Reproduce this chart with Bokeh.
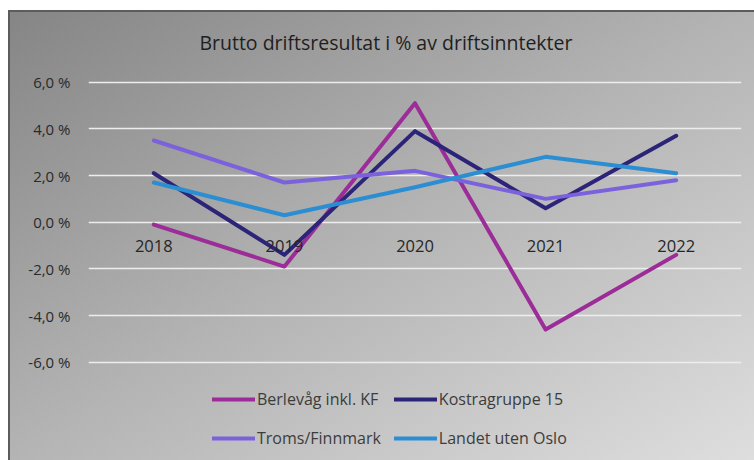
from bokeh.plotting import figure
from bokeh.models import Range1d, FactorRange, FixedTicker, Legend, LegendItem, Label, ColumnDataSource
from bokeh.core.properties import value
from bokeh.embed import file_html
from bokeh.resources import INLINE

# ---- data ----
years = ["2018", "2019", "2020", "2021", "2022"]
berlevag = [-0.1, -1.9, 5.1, -4.6, -1.4]
kostra = [2.1, -1.4, 3.9, 0.6, 3.7]
troms = [3.5, 1.7, 2.2, 1.0, 1.8]
landet = [1.7, 0.3, 1.5, 2.8, 2.1]
series_names = ["Berlevåg inkl. KF", "Kostragruppe 15", "Troms/Finnmark", "Landet uten Oslo"]
series_values = [berlevag, kostra, troms, landet]
series_colors = ["#9b2c98", "#2c2478", "#7b62dc", "#2b8ed3"]
y_ticks = [-6, -4, -2, 0, 2, 4, 6]
y_tick_labels = ["-6,0 %", "-4,0 %", "-2,0 %", "0,0 %", "2,0 %", "4,0 %", "6,0 %"]
title_text = "Brutto driftsresultat  i % av driftsinntekter"

FONT = "Open Sans"

# frame spans the full chart height so title/legend can live inside it
p = figure(
    width=746, height=450,
    x_range=FactorRange(*years), y_range=Range1d(-10.21, 9.07),
    output_backend="svg", toolbar_location=None,
    min_border_left=80, min_border_right=13, min_border_top=0, min_border_bottom=0,
    styles={
        "margin": "10px 0 0 8px",
        "background": "linear-gradient(to bottom right, #858585 0%, #b4b4b4 50%, #dedede 100%)",
        "box-shadow": "inset 2px 2px 0 #5c5c5c",
    },
)
p.border_fill_alpha = 0
p.background_fill_alpha = 0
p.outline_line_color = None

# axes
p.xaxis.visible = False
yax = p.yaxis[0]
yax.ticker = FixedTicker(ticks=y_ticks)
yax.major_label_overrides = {t: l for t, l in zip(y_ticks, y_tick_labels)}
yax.axis_line_color = None
yax.major_tick_line_color = None
yax.minor_tick_line_color = None
yax.major_label_standoff = 12
yax.major_label_text_font = FONT
yax.major_label_text_font_size = "15px"
yax.major_label_text_color = "#2a2a2a"

p.xgrid.visible = False
p.ygrid.ticker = FixedTicker(ticks=y_ticks)
p.ygrid.grid_line_color = "#ededed"
p.ygrid.grid_line_width = 1.5

# series
renderers = []
for vals, col in zip(series_values, series_colors):
    src = ColumnDataSource(dict(x=years, y=vals))
    r = p.line("x", "y", source=src, line_color=col, line_width=4,
               line_cap="round", line_join="round")
    renderers.append(r)

# category labels along the zero line
p.text(x=years, y=[0] * len(years), text=years, text_align="center",
       text_baseline="middle", y_offset=24, text_font=value(FONT),
       text_font_size="16.5px", text_color="#262626")

# title
p.add_layout(Label(x=300, y=418, x_units="screen", y_units="screen", text=title_text,
                   text_align="center", text_baseline="middle", text_font=FONT,
                   text_font_size="19.5px", text_color="#1f1f1f"))

# legend: two rows, filled row by row (column-major order for ncols=2)
order = [0, 2, 1, 3]
items = [LegendItem(label=series_names[i], renderers=[renderers[i]]) for i in order]
legend = Legend(items=items, ncols=2, location=(124, 9),
                glyph_width=43, glyph_height=26, label_height=26,
                label_standoff=2, spacing=13, padding=0, margin=0,
                label_text_font=FONT, label_text_font_size="16px",
                label_text_color="#3c3c3c",
                background_fill_alpha=0, border_line_alpha=0)
p.add_layout(legend, "center")

open("out.html", "w").write(file_html(p, INLINE))
